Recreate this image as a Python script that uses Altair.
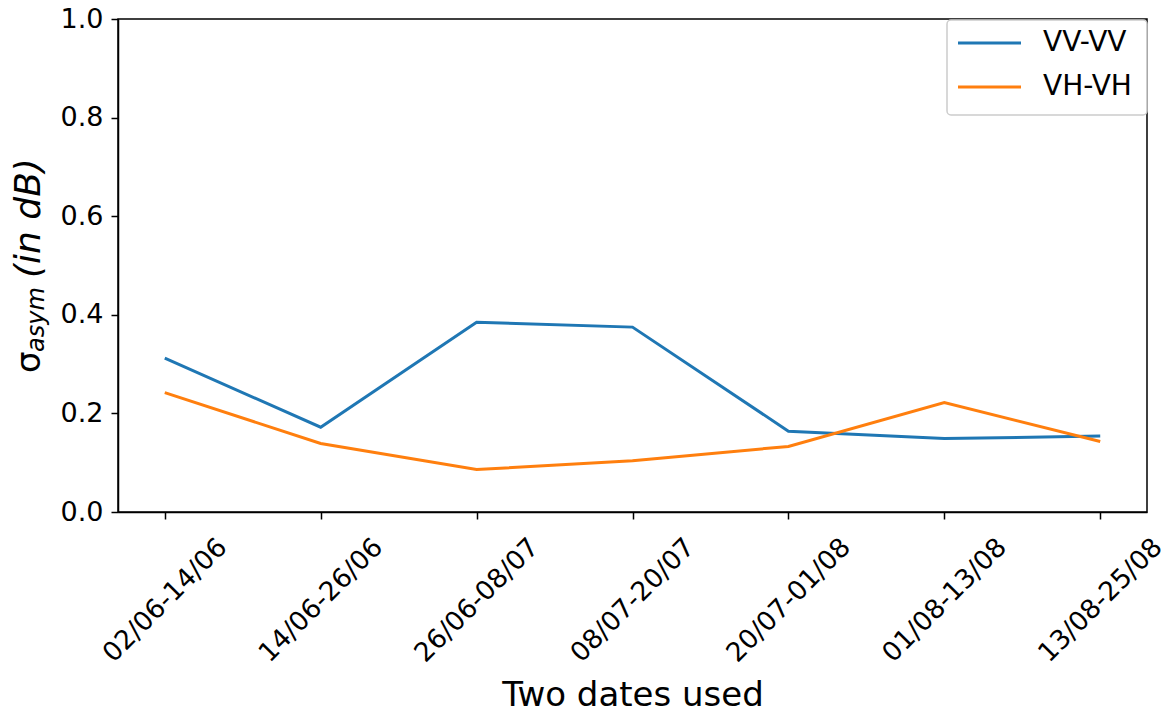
import altair as alt
import pandas as pd

# ---- data ----
pairs = ["02/06-14/06", "14/06-26/06", "26/06-08/07", "08/07-20/07",
         "20/07-01/08", "01/08-13/08", "13/08-25/08"]
vv_values = [0.312, 0.172, 0.385, 0.375, 0.164, 0.149, 0.154]
vh_values = [0.242, 0.139, 0.086, 0.104, 0.133, 0.222, 0.143]
series_names = ["VV-VV", "VH-VH"]
series_colors = ["#1f77b4", "#ff7f0e"]
y_ticks = [0.0, 0.2, 0.4, 0.6, 0.8, 1.0]

df = pd.DataFrame({
    "pair": pairs + pairs,
    "value": vv_values + vh_values,
    "series": [series_names[0]] * len(pairs) + [series_names[1]] * len(pairs),
})

FONT = "DejaVu Sans"
W, H = 1029, 493
one = pd.DataFrame({"k": [0]})

lines = alt.Chart(df).mark_line(strokeWidth=3).encode(
    x=alt.X("pair:N", sort=pairs,
            scale=alt.Scale(type="point", padding=0.3),
            axis=alt.Axis(title="Two dates used", labelAngle=-45,
                          labelAlign="center", labelBaseline="middle",
                          labelPadding=81, labelFontSize=26.5, tickSize=7,
                          titleFontSize=34, titleY=193,
                          titleBaseline="alphabetic", labelOverlap=False)),
    y=alt.Y("value:Q", scale=alt.Scale(domain=[0, 1], nice=False, zero=True),
            axis=alt.Axis(title=None, values=y_ticks, format=".1f",
                          labelFontSize=27, tickSize=7, labelPadding=8)),
    color=alt.Color("series:N", scale=alt.Scale(domain=series_names, range=series_colors),
                    legend=None),
)

# ---- y title: sigma with subscript ----
t_sigma = alt.Chart(one).mark_text(text="σ", angle=270, align="left", baseline="alphabetic",
                                   fontSize=34, font=FONT, color="black").encode(
    x=alt.value(-78), y=alt.value(354))
t_sub = alt.Chart(one).mark_text(text="asym", angle=270, align="left", baseline="alphabetic",
                                 fontSize=24, fontStyle="italic", font=FONT, color="black").encode(
    x=alt.value(-74), y=alt.value(333))
t_unit = alt.Chart(one).mark_text(text="(in dB)", angle=270, align="left", baseline="alphabetic",
                                  fontSize=36, fontStyle="italic", font=FONT, color="black").encode(
    x=alt.value(-78), y=alt.value(259))

# ---- legend (matplotlib style) ----
leg_box = alt.Chart(one).mark_rect(fill="white", fillOpacity=0.8, stroke="#cccccc",
                                   strokeWidth=1.5, cornerRadius=4).encode(
    x=alt.value(829), x2=alt.value(1029), y=alt.value(1), y2=alt.value(96))
leg_layers = [leg_box]
for i, (name, col) in enumerate(zip(series_names, series_colors)):
    yy = 24 + 44 * i
    leg_layers.append(alt.Chart(one).mark_rule(color=col, strokeWidth=3).encode(
        x=alt.value(840), x2=alt.value(903), y=alt.value(yy)))
    leg_layers.append(alt.Chart(one).mark_text(text=name, align="left", baseline="middle",
                                               fontSize=28, font=FONT, color="black").encode(
        x=alt.value(925), y=alt.value(yy)))

chart = alt.layer(lines, t_sigma, t_sub, t_unit, *leg_layers).properties(
    width=W, height=H,
    background="white",
    autosize=alt.AutoSizeParams(type="none"),
    padding={"left": 110, "top": 11, "right": 18, "bottom": 197},
).configure_view(
    stroke="black", strokeWidth=1.5
).configure_axis(
    grid=False, domainColor="black", domainWidth=1.5, tickColor="black", tickWidth=1.5,
    labelColor="black", titleColor="black", labelFont=FONT, titleFont=FONT,
    titleFontWeight="normal"
)

chart.save("out.html", embed_options={"renderer": "svg", "actions": False})
